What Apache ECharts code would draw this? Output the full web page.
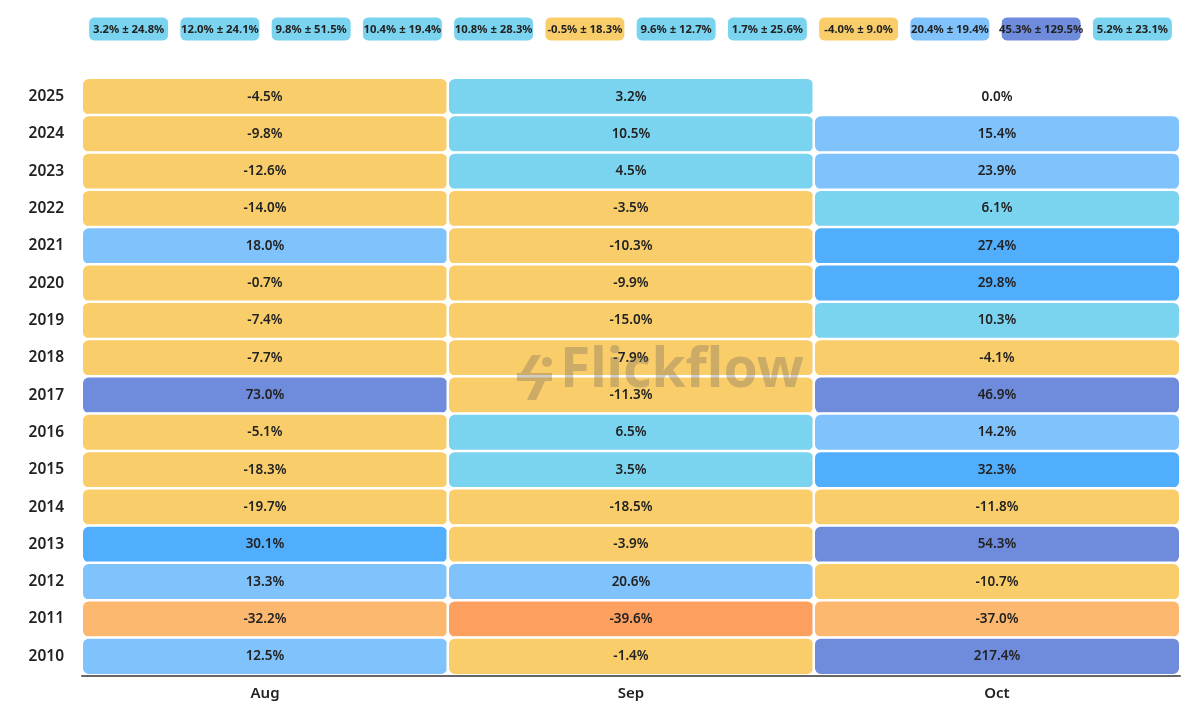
<!DOCTYPE html>
<html>
<head>
<meta charset="utf-8">
<script src="https://cdn.jsdelivr.net/npm/echarts@6/dist/echarts.min.js"></script>
<style>html,body{margin:0;padding:0;background:#fff}#c{width:1204px;height:720px}</style>
</head>
<body>
<div id="c"></div>
<script>
var years = ['2025','2024','2023','2022','2021','2020','2019','2018','2017','2016','2015','2014','2013','2012','2011','2010'];
var months = ['Aug','Sep','Oct'];
var augVals = [-4.5,-9.8,-12.6,-14.0,18.0,-0.7,-7.4,-7.7,73.0,-5.1,-18.3,-19.7,30.1,13.3,-32.2,12.5];
var sepVals = [3.2,10.5,4.5,-3.5,-10.3,-9.9,-15.0,-7.9,-11.3,6.5,3.5,-18.5,-3.9,20.6,-39.6,-1.4];
var octVals = [0.0,15.4,23.9,6.1,27.4,29.8,10.3,-4.1,46.9,14.2,32.3,-11.8,54.3,-10.7,-37.0,217.4];
var badgeMonths = ['Jan','Feb','Mar','Apr','May','Jun','Jul','Aug','Sep','Oct','Nov','Dec'];
var badgeMeans = [3.2,12.0,9.8,10.4,10.8,-0.5,9.6,1.7,-4.0,20.4,45.3,5.2];
var badgeSds = [24.8,24.1,51.5,19.4,28.3,18.3,12.7,25.6,9.0,19.4,129.5,23.1];

var FONT = '"Noto Sans", sans-serif';
var cols = [augVals, sepVals, octVals];
var heat = [];
cols.forEach(function(arr, i){ arr.forEach(function(v, j){ heat.push([i, j, v]); }); });
var badges = badgeMeans.map(function(m, i){ return [i, 0, m, badgeSds[i]]; });
var WM = 'rgba(110,100,90,0.33)';

var chart = echarts.init(document.getElementById('c'));
chart.setOption({
  backgroundColor: '#fff',
  animation: false,
  grid: [
    {left: 82, right: 24, top: 78, bottom: 45},
    {left: 83, right: 26, top: 17, height: 24}
  ],
  xAxis: [
    {type: 'category', data: months, gridIndex: 0, z: 5, offset: 1,
     axisLine: {lineStyle: {color: '#666', width: 2}},
     axisTick: {alignWithLabel: true, length: 6, lineStyle: {color: '#333', width: 1}},
     axisLabel: {color: '#222', fontFamily: FONT, fontSize: 15, fontWeight: 600, margin: 10},
     splitArea: {show: false}},
    {type: 'category', data: badgeMonths, gridIndex: 1, show: false}
  ],
  yAxis: [
    {type: 'category', data: years, inverse: true, gridIndex: 0,
     axisLine: {show: false}, axisTick: {show: false},
     axisLabel: {color: '#222', fontFamily: FONT, fontSize: 15.5, fontWeight: 600, margin: 18}},
    {type: 'category', data: ['s'], gridIndex: 1, show: false}
  ],
  visualMap: {
    show: false, seriesIndex: [0, 1], dimension: 2, type: 'piecewise',
    pieces: [
      {value: 0, color: '#ffffff'},
      {lt: -38, color: '#FDA05F'},
      {gte: -38, lt: -30, color: '#FDB870'},
      {gte: -30, lt: 0, color: '#F9CE6A'},
      {gt: 0, lt: 12.25, color: '#7AD3EF'},
      {gte: 12.25, lt: 25, color: '#7FC2FC'},
      {gte: 25, lt: 40, color: '#51AEFD'},
      {gte: 40, color: '#6E8BDC'}
    ]
  },
  series: [
    {type: 'heatmap', xAxisIndex: 0, yAxisIndex: 0, data: heat,
     itemStyle: {borderColor: '#fff', borderWidth: 2.5, borderRadius: 7},
     label: {show: true, color: '#222', fontFamily: FONT, fontSize: 13.5, fontWeight: 600,
       formatter: function(p){ return p.value[2].toFixed(1) + '%'; }},
     emphasis: {disabled: true}},
    {type: 'custom', xAxisIndex: 1, yAxisIndex: 1, data: badges,
     encode: {x: 0, y: 1},
     renderItem: function(params, api){
       var p = api.coord([api.value(0), api.value(1)]);
       var c = api.visual('color');
       var txt = api.value(2).toFixed(1) + '% ± ' + api.value(3).toFixed(1) + '%';
       return {type: 'group', children: [
         {type: 'rect', shape: {x: p[0] - 40, y: p[1] - 12, width: 80, height: 24, r: 6},
          style: {fill: c, stroke: '#fff', lineWidth: 1}},
         {type: 'text', style: {text: txt, x: p[0], y: p[1] + 1, align: 'center', verticalAlign: 'middle',
          font: '700 11.3px "Noto Sans", sans-serif', fill: '#222'}}
       ]};
     },
     emphasis: {disabled: true}}
  ],
  graphic: [
    {type: 'polygon', z: 100, silent: true,
     shape: {points: [[532,355],[541,355],[530,373],[552,373],[552,381],[545,381],[536,400],[527,400],[536,381],[517,381],[517,373],[521,373]]},
     style: {fill: WM}},
    {type: 'circle', z: 100, silent: true, shape: {cx: 547, cy: 362, r: 5}, style: {fill: WM}},
    {type: 'text', z: 100, silent: true, x: 560, y: 344,
     style: {text: 'Flickflow', font: 'bold 55px "Noto Sans", sans-serif', fill: WM}}
  ]
});
</script>
</body>
</html>
